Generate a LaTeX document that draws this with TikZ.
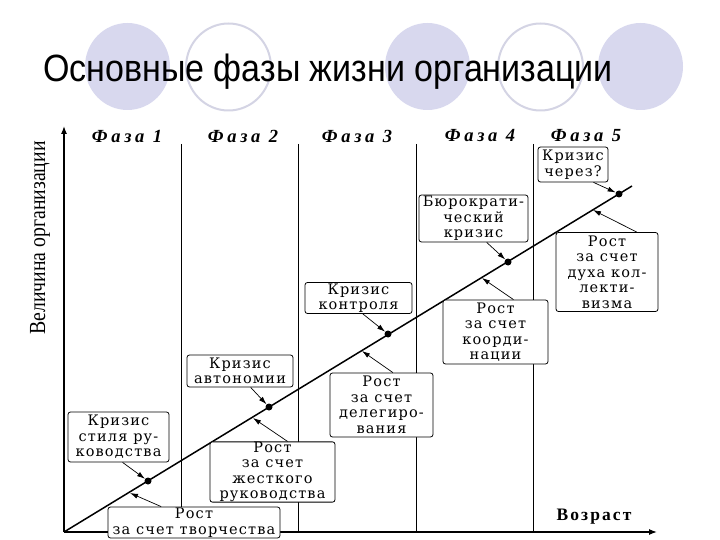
\documentclass[tikz,border=0pt]{standalone}
\usepackage{fontspec}
\usepackage{graphicx}
\setmainfont{Liberation Serif}
\newfontfamily\titlefont{Liberation Sans}
\newfontfamily\boxfont[LetterSpace=8]{DejaVu Serif}
\newfontfamily\phasefont[LetterSpace=20]{Liberation Serif}
\newfontfamily\axisfont[LetterSpace=12]{Liberation Serif}
\usetikzlibrary{arrows.meta,calc}
\definecolor{lav}{RGB}{216,216,238}
\definecolor{lavline}{RGB}{212,212,228}
\tikzset{
  filledc/.style={fill=lav,draw=none},
  ringc/.style={draw=lavline,line width=2pt,fill=white},
  axisline/.style={line width=1.2pt,-{Latex[length=8pt,width=6pt]}},
  phaseline/.style={line width=0.9pt},
  growline/.style={line width=1.5pt},
  phaselab/.style={font=\phasefont\bfseries\itshape\fontsize{18.5}{18.5}\selectfont},
  infobox/.style={draw,line width=0.8pt,rounded corners=2.5pt,fill=white,align=center,inner sep=0pt,
     font=\boxfont\fontsize{14.5}{15.5}\selectfont},
  dotmark/.style={circle,fill=black,inner sep=0pt,minimum size=7pt},
  ptr/.style={line width=0.7pt,-{Latex[length=8pt,width=5pt]}},
}
\begin{document}
\begin{tikzpicture}[x=1pt,y=-1pt]
\useasboundingbox (0,0) rectangle (720,540);
% decorative circles
\path[filledc] (127.5,66.5) circle[x radius=42.5,y radius=43.5];
\path[ringc] (228.5,67) circle[x radius=42.5,y radius=43.5];
\path[filledc] (427.5,66.5) circle[x radius=42.5,y radius=43.5];
\path[ringc] (540.5,67) circle[x radius=42.5,y radius=43.5];
\path[filledc] (640.5,66.5) circle[x radius=42.5,y radius=43.5];
\node[anchor=base west,inner sep=0pt,font=\titlefont\fontsize{38}{38}\selectfont] (title) at (43,82) {\scalebox{0.895}[1]{Основные фазы жизни организации}};
% axes
\coordinate (O) at (64,532);
\coordinate (ytop) at (64,126);
\coordinate (xend) at (657,532);
\draw[axisline] (O) -- (ytop);
\draw[axisline] (O) -- (xend);
\node[rotate=90,inner sep=0pt,font=\fontsize{23}{23}\selectfont] (ylab) at (40,238) {\scalebox{0.86}[1]{Величина организации}};
\node[inner sep=0pt,font=\axisfont\bfseries\fontsize{17.5}{17.5}\selectfont] (xlab) at (594,517) {Возраст};
% phase lines
\foreach \x/\n in {181/p1,298/p2,416/p3,533/p4}{
  \coordinate (\n t) at (\x,144);
  \coordinate (\n b) at (\x,532);
  \draw[phaseline] (\n t) -- (\n b);
}
\node[phaselab] (f1) at (127,136) {Фаза 1};
\node[phaselab] (f2) at (243,136) {Фаза 2};
\node[phaselab] (f3) at (357,136) {Фаза 3};
\node[phaselab] (f4) at (480,136) {Фаза 4};
\node[phaselab] (f5) at (586,136) {Фаза 5};
% growth line
\coordinate (gE) at (632,186);
\draw[growline] (O) -- (gE);
% boxes
\node[infobox,minimum width=101pt,minimum height=50pt] (b1) at (118.5,437) {Кризис\\стиля ру-\\ководства};
\node[infobox,minimum width=172pt,minimum height=31pt] (b2) at (194,522.5) {Рост\\за счет творчества};
\node[infobox,minimum width=125pt,minimum height=60pt] (b3) at (272.5,472) {Рост\\за счет\\жесткого\\руководства};
\node[infobox,minimum width=106pt,minimum height=32pt] (b4) at (240,371) {Кризис\\автономии};
\node[infobox,minimum width=103pt,minimum height=64pt] (b5) at (381.5,405) {Рост\\за счет\\делегиро-\\вания};
\node[infobox,minimum width=107pt,minimum height=31pt] (b6) at (358.5,298) {Кризис\\контроля};
\node[infobox,minimum width=105pt,minimum height=64pt] (b7) at (495.5,332) {Рост\\за счет\\коорди-\\нации};
\node[infobox,minimum width=109pt,minimum height=47pt] (b8) at (473.5,218.5) {Бюрократи-\\ческий\\кризис};
\node[infobox,minimum width=102pt,minimum height=79pt] (b9) at (607,272) {Рост\\за счет\\духа кол-\\лекти-\\визма};
\node[infobox,minimum width=70pt,minimum height=35pt] (b10) at (573,164.5) {Кризис\\через?};
% dots
\node[dotmark] (d1) at (148,481) {};
\node[dotmark] (d2) at (269,407) {};
\node[dotmark] (d3) at (388,334) {};
\node[dotmark] (d4) at (508,262) {};
\node[dotmark] (d5) at (619,194) {};
% tips on line
\coordinate (g1) at (130,493);
\coordinate (g2) at (253,418);
\coordinate (g3) at (362,351);
\coordinate (g4) at (482,278);
\coordinate (g5) at (593,210);
% arrows
\draw[ptr] ($(b1.south west)!0.54!(b1.south east)$) -- (d1);
\draw[ptr] ($(b2.north west)!0.31!(b2.north east)$) -- (g1);
\draw[ptr] ($(b4.south west)!0.60!(b4.south east)$) -- (d2);
\draw[ptr] ($(b3.north west)!0.62!(b3.north east)$) -- (g2);
\draw[ptr] ($(b6.south west)!0.54!(b6.south east)$) -- (d3);
\draw[ptr] ($(b5.north west)!0.61!(b5.north east)$) -- (g3);
\draw[ptr] ($(b8.south west)!0.62!(b8.south east)$) -- (d4);
\draw[ptr] ($(b7.north west)!0.67!(b7.north east)$) -- (g4);
\draw[ptr] ($(b10.south west)!0.79!(b10.south east)$) -- (d5);
\draw[ptr] ($(b9.north west)!0.79!(b9.north east)$) -- (g5);
\end{tikzpicture}
\end{document}
